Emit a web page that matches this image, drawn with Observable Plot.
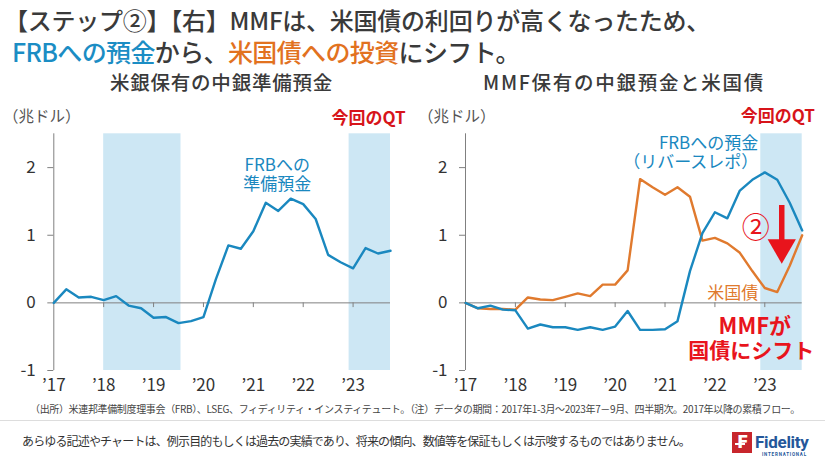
<!DOCTYPE html>
<html><head><meta charset="utf-8">
<script src="https://cdn.jsdelivr.net/npm/d3@7"></script>
<script src="https://cdn.jsdelivr.net/npm/@observablehq/plot@0.6"></script>
<style>
body{margin:0;background:#fff}
#root{position:relative;width:825px;height:464px;background:#fff;font-family:"Noto Sans CJK JP","Noto Sans",sans-serif;color:#3a3a3a;overflow:hidden}
.abs{position:absolute;white-space:nowrap}
</style></head>
<body><div id="root">
<div class="abs fit" data-w="706" style="left:4px;top:6px;font-size:24px;line-height:28px;font-weight:500">【ステップ②】【右】MMFは、米国債の利回りが高くなったため、</div>
<div class="abs fit" data-w="508" style="left:12px;top:37px;font-size:25px;line-height:29px;font-weight:500"><span style="color:#1b8dc4">FRBへの預金</span>から、<span style="color:#e2721f">米国債への投資</span>にシフト。</div>
<div class="abs fit" data-w="223" style="left:110px;top:70px;font-size:19.5px;line-height:24px;font-weight:500">米銀保有の中銀準備預金</div>
<div class="abs fit" data-w="282" style="left:483px;top:70px;font-size:19.5px;line-height:24px;font-weight:500">MMF保有の中銀預金と米国債</div>
<div class="abs" style="left:3px;top:105px;font-size:15.5px;line-height:20px;color:#555">（兆ドル）</div>
<div class="abs" style="left:418px;top:105px;font-size:15.5px;line-height:20px;color:#555">（兆ドル）</div>
<div id="left" class="abs" style="left:0;top:100px"></div>
<div id="right" class="abs" style="left:410px;top:100px"></div>
<div class="abs fit" data-w="770" style="left:30px;top:402px;font-size:10px;line-height:14px;color:#444">（出所）米連邦準備制度理事会（FRB）、LSEG、フィディリティ・インスティテュート。（注）データの期間：2017年1-3月～2023年7－9月、四半期次。2017年以降の累積フロー。</div>
<div class="abs" style="left:0;top:420px;width:825px;height:1px;background:#ddd"></div>
<div class="abs fit" data-w="668" style="left:22px;top:433px;font-size:12px;line-height:16px;color:#333">あらゆる記述やチャートは、例示目的もしくは過去の実績であり、将来の傾向、数値等を保証もしくは示唆するものではありません。</div>
<div class="abs" style="left:732px;top:432px;width:20px;height:21px;background:#c8262c"></div>
<div class="abs" style="left:737px;top:432px;width:12px;font-size:17px;line-height:21px;color:#fff;font-weight:bold;font-family:'DejaVu Sans'">F</div>
<div class="abs" style="left:735px;top:443px;width:10px;height:1.5px;background:#fff"></div>
<div class="abs" style="left:755px;top:432px;font-size:17px;line-height:20px;color:#24579a;font-weight:bold;font-family:Roboto;letter-spacing:-0.3px">Fidelity</div>
<div class="abs" style="left:762px;top:452px;font-size:4.5px;line-height:5px;color:#24579a;font-weight:bold;font-family:Roboto;letter-spacing:0.8px">INTERNATIONAL</div>
</div>
<script>
// ---- data ----
const years = [2017, 2018, 2019, 2020, 2021, 2022, 2023];
const yTicks = [-1, 0, 1, 2];
// quarterly cumulative flows since 2017 (trillion USD), start point + 2017Q1..2023Q3
const reserves = [0, 0.2, 0.08, 0.09, 0.04, 0.1, -0.04, -0.08, -0.22, -0.21, -0.3, -0.27, -0.21, 0.35, 0.85, 0.8, 1.06, 1.48, 1.36, 1.54, 1.46, 1.24, 0.71, 0.6, 0.51, 0.81, 0.73, 0.77];
const reverseRepo = [0, -0.08, -0.04, -0.1, -0.11, -0.38, -0.32, -0.36, -0.36, -0.4, -0.36, -0.4, -0.35, -0.12, -0.4, -0.4, -0.39, -0.27, 0.47, 1.03, 1.34, 1.25, 1.66, 1.82, 1.93, 1.82, 1.48, 1.07];
const treasuries = [0, -0.08, -0.09, -0.09, -0.1, 0.08, 0.05, 0.04, 0.09, 0.14, 0.1, 0.27, 0.27, 0.48, 1.83, 1.71, 1.6, 1.71, 1.57, 0.92, 0.96, 0.88, 0.74, 0.47, 0.22, 0.16, 0.55, 1.0];
const qtLeft = [{start: 2018, end: 2019.55}, {start: 2022.92, end: 2023.75}];
const qtRight = [{start: 2022.92, end: 2023.75}];
const leftLabels = [
  {x: 2021.48, y: 1.9, text: "FRBへの\n準備預金", color: "#1a88bf", size: 17, weight: "normal", anchor: "middle"},
  {x: 2023.31, y: 2.73, text: "今回のQT", color: "#d7141a", size: 17, weight: "bold", anchor: "middle"}
];
const rightLabels = [
  {x: 2023.26, y: 2.77, text: "今回のQT", color: "#d7141a", size: 17, weight: "bold", anchor: "middle"},
  {x: 2022.87, y: 2.22, text: "FRBへの預金\n（リバースレポ）", color: "#1a88bf", size: 17, weight: "normal", anchor: "end"},
  {x: 2022.87, y: 0.14, text: "米国債", color: "#e07a2e", size: 17, weight: "normal", anchor: "end"},
  {x: 2022.82, y: 1.11, text: "②", color: "#e8141c", size: 28, weight: "normal", anchor: "middle"},
  {x: 2022.80, y: -0.35, text: "MMFが", color: "#e8141c", size: 22, weight: "bold", anchor: "middle"},
  {x: 2022.73, y: -0.71, text: "国債にシフト", color: "#e8141c", size: 21, weight: "bold", anchor: "middle"}
];
const arrowShaft = [{x: 2023.34, y1: 1.44, y2: 0.9}];
const arrowHead = [{x: 2023.34, y: 0.82}];

const BLUE = "#1a88bf", ORANGE = "#e07a2e", SHADE = "#cde7f4", AXIS = "#808080";
const toSeries = (arr) => arr.map((v, i) => ({t: 2017 + i * 0.25, v}));

function chart({width, marginLeft, marginRight, shades, lines, labels, extra = []}) {
  const groups = d3.groups(labels, d => d.weight + "|" + d.anchor + "|" + d.size);
  const textMarks = groups.map(([k, arr]) => Plot.text(arr, {x: "x", y: "y", text: "text", fill: d => d.color, fontSize: arr[0].size, fontWeight: arr[0].weight, textAnchor: arr[0].anchor, lineHeight: 1.12}));
  return Plot.plot({
    width, height: 300, marginLeft, marginRight, marginTop: 33.3, marginBottom: 30,
    x: {domain: [2017, 2023.75]},
    y: {domain: [-1, 2.5]},
    style: {fontFamily: '"Noto Sans CJK JP", sans-serif', background: "transparent", overflow: "visible"},
    marks: [
      Plot.rect(shades, {x1: "start", x2: "end", y1: -1, y2: 2.5, fill: SHADE}),
      Plot.ruleY([0], {stroke: AXIS, strokeWidth: 1}),
      Plot.ruleX(years.slice(1), {x: d => d, y1: 0, y2: -0.07, stroke: AXIS}),
      Plot.ruleX([2017], {y1: -1, y2: 2.5, stroke: AXIS}),
      Plot.axisY({ticks: yTicks, tickSize: 6, tickPadding: 12, fontSize: 17, stroke: AXIS, fill: "#333", label: null, tickFormat: d => String(d)}),
      Plot.axisX({ticks: years, tickSize: 0, tickPadding: 8, fontSize: 17, fill: "#333", label: null, tickFormat: d => "’" + String(d).slice(2)}),
      ...lines.map(([data, color]) => Plot.line(toSeries(data), {x: "t", y: "v", stroke: color, strokeWidth: 2.4})),
      ...extra,
      ...textMarks
    ]
  });
}

document.querySelector("#left").appendChild(chart({
  width: 410, marginLeft: 53.3, marginRight: 20, shades: qtLeft,
  lines: [[reserves, BLUE]], labels: leftLabels
}));
document.querySelector("#right").appendChild(chart({
  width: 415, marginLeft: 55, marginRight: 23.3, shades: qtRight,
  lines: [[treasuries, ORANGE], [reverseRepo, BLUE]], labels: rightLabels,
  extra: [
    Plot.ruleX(arrowShaft, {x: "x", y1: "y1", y2: "y2", stroke: "#e8141c", strokeWidth: 5.5}),
    Plot.dot(arrowHead, {x: "x", y: "y", symbol: "triangle", r: 10.5, rotate: 180, fill: "#e8141c", stroke: "none"})
  ]
}));

// fit text blocks to the widths seen in the reference by adjusting letter spacing
document.querySelectorAll(".fit").forEach(el => {
  const target = +el.dataset.w;
  const w = el.getBoundingClientRect().width;
  const n = el.textContent.length;
  el.style.letterSpacing = ((target - w) / n) + "px";
});
</script>
</body></html>
